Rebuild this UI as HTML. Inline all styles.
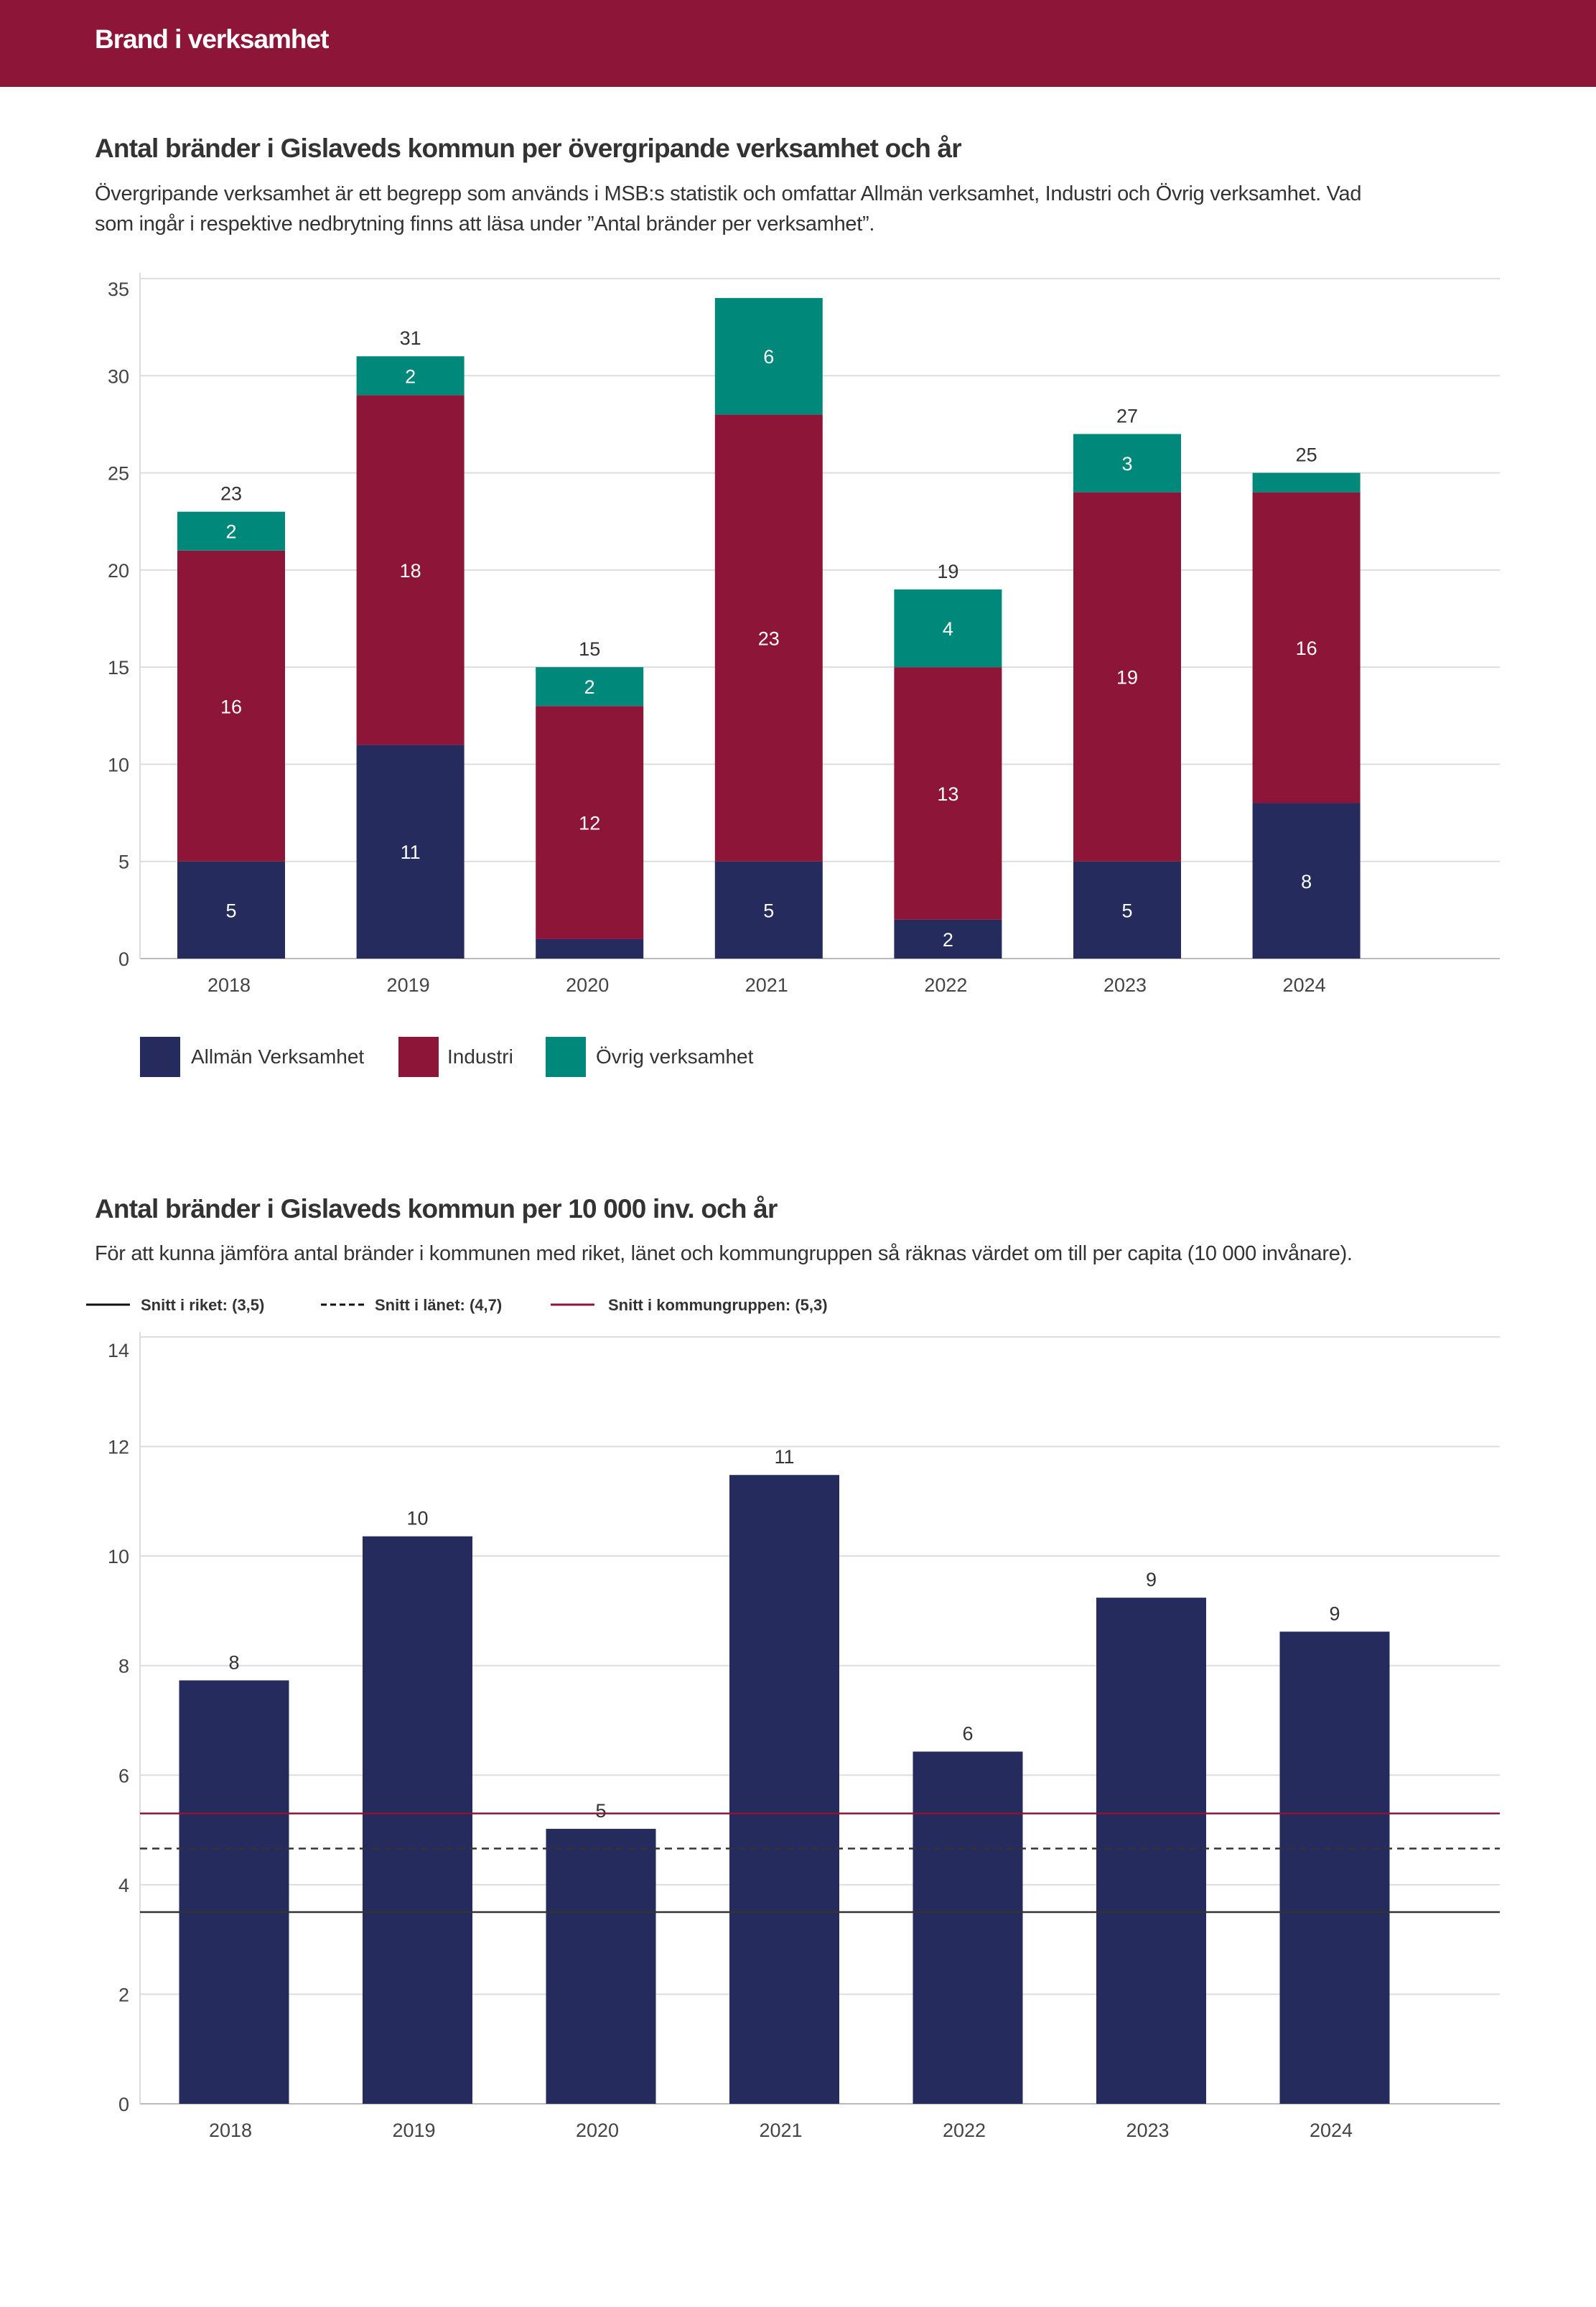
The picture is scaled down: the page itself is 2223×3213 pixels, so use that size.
<!DOCTYPE html>
<html><head><meta charset="utf-8">
<style>
html,body{margin:0;padding:0;background:#fff;}
body{width:2223px;height:3213px;position:relative;overflow:hidden;font-family:"Liberation Sans",sans-serif;color:#333;}
.hdr{position:absolute;left:0;top:0;width:2223px;height:121px;background:#8c1538;}
.hdr span{position:absolute;left:132px;top:34px;color:#fff;font-weight:bold;font-size:37px;letter-spacing:-1px;}
.t{position:absolute;left:132px;font-weight:bold;font-size:37px;color:#333;letter-spacing:-0.8px;}
.s{position:absolute;left:132px;font-size:29px;color:#333;line-height:42px;width:2050px;letter-spacing:-0.3px;}
svg{position:absolute;left:0;top:0;}
text{font-family:"Liberation Sans",sans-serif;}
</style></head><body>
<div class="hdr"><span>Brand i verksamhet</span></div>
<div class="t" style="top:186px">Antal bränder i Gislaveds kommun per övergripande verksamhet och år</div>
<div class="s" style="top:249px">Övergripande verksamhet är ett begrepp som används i MSB:s statistik och omfattar Allmän verksamhet, Industri och Övrig verksamhet. Vad<br>som ingår i respektive nedbrytning finns att läsa under ”Antal bränder per verksamhet”.</div>
<div class="t" style="top:1663px">Antal bränder i Gislaveds kommun per 10 000 inv. och år</div>
<div class="s" style="top:1725px">För att kunna jämföra antal bränder i kommunen med riket, länet och kommungruppen så räknas värdet om till per capita (10 000 invånare).</div>
<svg id="c" width="2223" height="3213"></svg>
<script>
const years=["2018","2019","2020","2021","2022","2023","2024"];
const allman=[5,11,1,5,2,5,8];
const industri=[16,18,12,23,13,19,16];
const ovrig=[2,2,2,6,4,3,1];
const ticks1=[0,5,10,15,20,25,30,35];
const perCapita=[7.73,10.36,5.02,11.48,6.43,9.24,8.62];
const perCapitaLabels=["8","10","5","11","6","9","9"];
const ticks2=[0,2,4,6,8,10,12,14];
const refRiket=3.5, refLanet=4.66, refGrupp=5.3;

const NS="http://www.w3.org/2000/svg";
const svg=document.getElementById('c');
function mk(tag,attrs,parent,txt){const e=document.createElementNS(NS,tag);for(const k in attrs)e.setAttribute(k,attrs[k]);if(txt!==undefined)e.textContent=txt;(parent||svg).appendChild(e);return e;}
const C1="#252b5c",C2="#8c1538",C3="#00897b";
const L=195,R=2089;
// chart 1
const y1=v=>1335-v*(1335-388)/35;
const x1=i=>322+i*249.6;
ticks1.forEach(t=>{
  const l=mk('line',{x1:L,x2:R,y1:y1(t),y2:y1(t),stroke:t==0?"#bbb":"#ddd","stroke-width":2});
  
  const tx=mk('text',{x:180,y:y1(t)+10+(t==35?14:0),"text-anchor":"end","font-size":27,fill:"#444"},null,t);
  
});
mk('line',{x1:L,x2:L,y1:380,y2:1335,stroke:"#ddd","stroke-width":2});
const bw1=150;
years.forEach((yr,i)=>{
  const segs=[[allman[i],C1,'allman'],[industri[i],C2,'industri'],[ovrig[i],C3,'ovrig']];
  let base=0;
  segs.forEach(([v,col,nm])=>{
    const r=mk('rect',{x:x1(i)-bw1/2,y:y1(base+v),width:bw1,height:y1(base)-y1(base+v),fill:col});
    
    if(v>=2){const t=mk('text',{x:x1(i),y:(y1(base)+y1(base+v))/2+10,"text-anchor":"middle","font-size":27,fill:"#fff"},null,v);
      }
    base+=v;
  });
  if(base<=33){const t=mk('text',{x:x1(i),y:y1(base)-16,"text-anchor":"middle","font-size":27,fill:"#333"},null,base);
    }
  const xl=mk('text',{x:x1(i)-3,y:1381,"text-anchor":"middle","font-size":27,fill:"#444"},null,yr);
  
});
[[195,266,C1,"Allmän Verksamhet"],[555,623,C2,"Industri"],[760,830,C3,"Övrig verksamhet"]].forEach(([sx,tx,col,lab])=>{
  const r=mk('rect',{x:sx,y:1444,width:56,height:56,fill:col});
  
  const t=mk('text',{x:tx,y:1481,"font-size":28,fill:"#333"},null,lab);
  
});
// chart 2
const y2=v=>2930-v*(2930-1862)/14;
const x2=i=>326+i*255.5;
ticks2.forEach(t=>{
  const l=mk('line',{x1:L,x2:R,y1:y2(t),y2:y2(t),stroke:t==0?"#bbb":"#ddd","stroke-width":2});
  
  const tx=mk('text',{x:180,y:y2(t)+10+(t==14?18:0),"text-anchor":"end","font-size":27,fill:"#444"},null,t);
  
});
mk('line',{x1:L,x2:L,y1:1855,y2:2930,stroke:"#ddd","stroke-width":2});
const bw2=153;
years.forEach((yr,i)=>{
  const r=mk('rect',{x:x2(i)-bw2/2,y:y2(perCapita[i]),width:bw2,height:y2(0)-y2(perCapita[i]),fill:C1});
  
  const t=mk('text',{x:x2(i),y:y2(perCapita[i])-16,"text-anchor":"middle","font-size":27,fill:"#333"},null,perCapitaLabels[i]);
  
  const xl=mk('text',{x:x2(i)-5,y:2976,"text-anchor":"middle","font-size":27,fill:"#444"},null,yr);
  
});
const r1=mk('line',{x1:L,x2:R,y1:y2(refGrupp),y2:y2(refGrupp),stroke:C2,"stroke-width":2.5});

const r2=mk('line',{x1:L,x2:R,y1:y2(refLanet),y2:y2(refLanet),stroke:"#333","stroke-width":2.5,"stroke-dasharray":"10,7"});

const r3=mk('line',{x1:L,x2:R,y1:y2(refRiket),y2:y2(refRiket),stroke:"#333","stroke-width":2.5});

[[120,196,"#111",null,"Snitt i riket: (3,5)"],[447,522,"#111","8,5","Snitt i länet: (4,7)"],[767,847,C2,null,"Snitt i kommungruppen: (5,3)"]].forEach(([lx,tx,col,da,lab])=>{
  const a={x1:lx,x2:lx+61,y1:1817,y2:1817,stroke:col,"stroke-width":3};if(da)a["stroke-dasharray"]=da;
  const l=mk('line',a);
  
  const t=mk('text',{x:tx,y:1825,"font-size":22,"font-weight":"bold",fill:"#333"},null,lab);
  
});
</script>
</body></html>
